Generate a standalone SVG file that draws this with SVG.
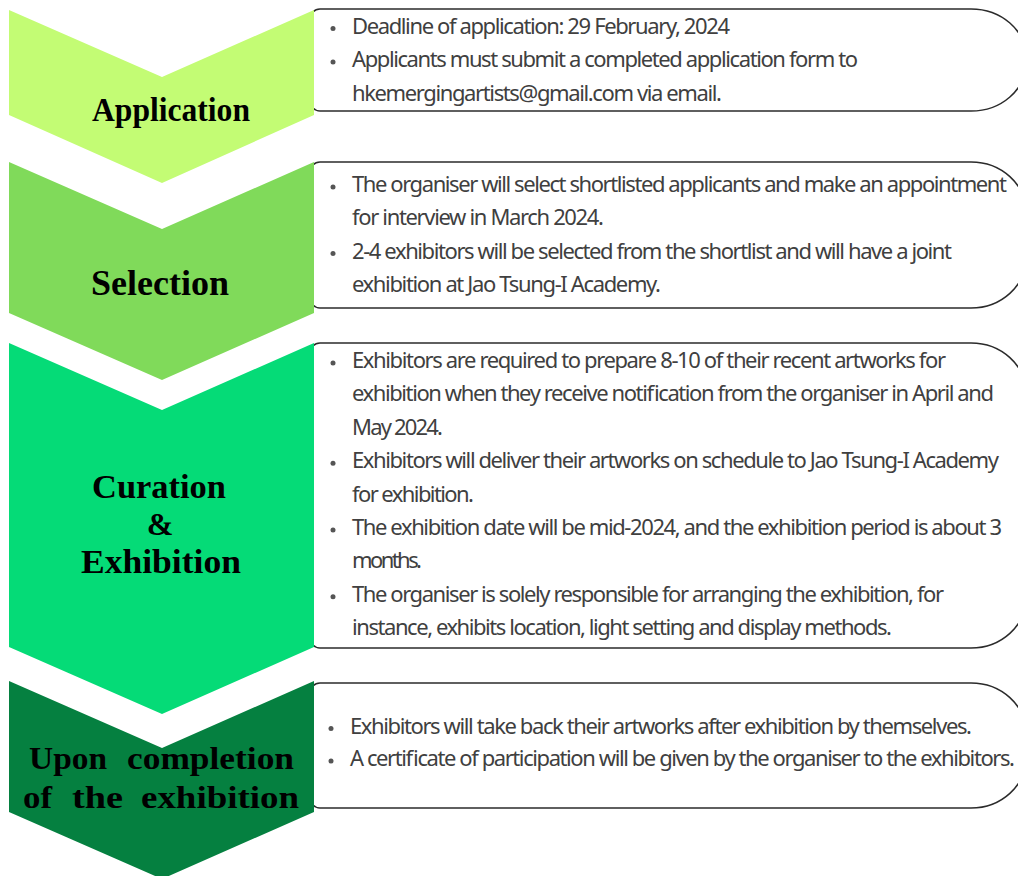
<svg xmlns="http://www.w3.org/2000/svg" width="1018" height="876" viewBox="0 0 1018 876">
<defs>
<style>
.box{fill:#fff;stroke:#2b2b2b;stroke-width:1.5}
.t{font-family:"Noto Sans","Open Sans",sans-serif;font-size:22px;fill:#404040}
.b{fill:#555}
.lbl{font-family:"Liberation Serif","Times New Roman",serif;font-weight:bold;fill:#000}
</style>
</defs>
<g id="boxes">
<path class="box" d="M320,9 H971 A55,48 0 0 1 1026,57 V63 A55,48 0 0 1 971,111 H320 A10,10 0 0 1 310,101 V19 A10,10 0 0 1 320,9 Z"/>
<path class="box" d="M320,162 H971 A55,50 0 0 1 1026,212 V258 A55,50 0 0 1 971,308 H320 A10,10 0 0 1 310,298 V172 A10,10 0 0 1 320,162 Z"/>
<path class="box" d="M320,343 H971 A55,50 0 0 1 1026,393 V598 A55,50 0 0 1 971,648 H320 A10,10 0 0 1 310,638 V353 A10,10 0 0 1 320,343 Z"/>
<path class="box" d="M320,683 H971 A55,50 0 0 1 1026,733 V758 A55,50 0 0 1 971,808 H320 A10,10 0 0 1 310,798 V693 A10,10 0 0 1 320,683 Z"/>
</g>
<g id="connectors"></g>
<g id="application">
<polygon points="9,10 162,77 314,10 314,115 162,183 9,115" fill="#c3fc74"/>
<text class="lbl" x="92" y="121" font-size="33" textLength="158" lengthAdjust="spacingAndGlyphs">Application</text>
</g>
<g id="selection">
<polygon points="9,162 162,229 314,162 314,313 162,380 9,313" fill="#80da5a"/>
<text class="lbl" x="91" y="295" font-size="35" textLength="138" lengthAdjust="spacingAndGlyphs">Selection</text>
</g>
<g id="curation">
<polygon points="9,343 162,410 314,343 314,647 162,714 9,647" fill="#05db77"/>
<text class="lbl" x="92" y="498" font-size="34" textLength="134" lengthAdjust="spacingAndGlyphs">Curation</text>
<text class="lbl" x="160" y="535" font-size="32" text-anchor="middle">&amp;</text>
<text class="lbl" x="81" y="573" font-size="34" textLength="160" lengthAdjust="spacingAndGlyphs">Exhibition</text>
</g>
<g id="completion">
<polygon points="9,681 162,748 314,681 314,812 162,879 9,812" fill="#058040"/>
<text class="lbl" x="29" y="769" font-size="32" textLength="78" lengthAdjust="spacingAndGlyphs">Upon</text>
<text class="lbl" x="127" y="769" font-size="32" textLength="167" lengthAdjust="spacingAndGlyphs">completion</text>
<text class="lbl" x="23" y="808" font-size="32" textLength="29" lengthAdjust="spacingAndGlyphs">of</text>
<text class="lbl" x="72" y="808" font-size="32" textLength="51" lengthAdjust="spacingAndGlyphs">the</text>
<text class="lbl" x="141" y="808" font-size="32" textLength="158" lengthAdjust="spacingAndGlyphs">exhibition</text>
</g>
<g id="application-text">
<circle class="b" cx="333" cy="28.5" r="2.5"/>
<circle class="b" cx="333" cy="62" r="2.5"/>
<text class="t" x="352" y="33.5" textLength="378" lengthAdjust="spacing">Deadline of application: 29 February, 2024</text>
<text class="t" x="352" y="67" textLength="506" lengthAdjust="spacing">Applicants must submit a completed application form to</text>
<text class="t" x="352" y="100.5" textLength="370" lengthAdjust="spacing">hkemergingartists@gmail.com via email.</text>
</g>
<g id="selection-text">
<circle class="b" cx="333" cy="187" r="2.5"/>
<circle class="b" cx="333" cy="253.5" r="2.5"/>
<text class="t" x="352" y="192" textLength="655" lengthAdjust="spacing">The organiser will select shortlisted applicants and make an appointment</text>
<text class="t" x="352" y="225.3" textLength="252" lengthAdjust="spacing">for interview in March 2024.</text>
<text class="t" x="352" y="258.6" textLength="600" lengthAdjust="spacing">2-4 exhibitors will be selected from the shortlist and will have a joint</text>
<text class="t" x="352" y="292" textLength="309" lengthAdjust="spacing">exhibition at Jao Tsung-I Academy.</text>
</g>
<g id="curation-text">
<circle class="b" cx="333" cy="363" r="2.5"/>
<circle class="b" cx="333" cy="463.2" r="2.5"/>
<circle class="b" cx="333" cy="530" r="2.5"/>
<circle class="b" cx="333" cy="596.8" r="2.5"/>
<text class="t" x="352" y="368" textLength="594" lengthAdjust="spacing">Exhibitors are required to prepare 8-10 of their recent artworks for</text>
<text class="t" x="352" y="401.4" textLength="642" lengthAdjust="spacing">exhibition when they receive notification from the organiser in April and</text>
<text class="t" x="352" y="434.8" textLength="91" lengthAdjust="spacing">May 2024.</text>
<text class="t" x="352" y="468.2" textLength="647" lengthAdjust="spacing">Exhibitors will deliver their artworks on schedule to Jao Tsung-I Academy</text>
<text class="t" x="352" y="501.6" textLength="122" lengthAdjust="spacing">for exhibition.</text>
<text class="t" x="352" y="535" textLength="650" lengthAdjust="spacing">The exhibition date will be mid-2024, and the exhibition period is about 3</text>
<text class="t" x="352" y="568.4" textLength="70" lengthAdjust="spacing">months.</text>
<text class="t" x="352" y="601.8" textLength="592" lengthAdjust="spacing">The organiser is solely responsible for arranging the exhibition, for</text>
<text class="t" x="352" y="635.2" textLength="540" lengthAdjust="spacing">instance, exhibits location, light setting and display methods.</text>
</g>
<g id="completion-text">
<circle class="b" cx="331" cy="728.5" r="2.5"/>
<circle class="b" cx="331" cy="761" r="2.5"/>
<text class="t" x="350" y="733.5" textLength="622" lengthAdjust="spacing">Exhibitors will take back their artworks after exhibition by themselves.</text>
<text class="t" x="350" y="766" textLength="665" lengthAdjust="spacing">A certificate of participation will be given by the organiser to the exhibitors.</text>
</g>
</svg>
